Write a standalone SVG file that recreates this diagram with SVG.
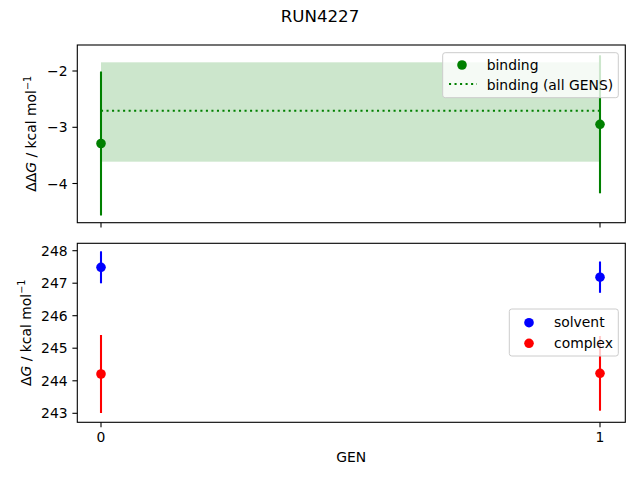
<svg xmlns="http://www.w3.org/2000/svg" width="640" height="480" viewBox="0 0 640 480">
<style>
text{font-family:"DejaVu Sans","Liberation Sans",sans-serif;font-size:13.9px;fill:#000}
.tl{text-anchor:end}
.tc{text-anchor:middle}
.spine{fill:none;stroke:#000;stroke-width:1.1}
.tick{stroke:#000;stroke-width:1.1}
.eb{stroke-width:2.08;fill:none}
.leg{fill:#fff;fill-opacity:0.8;stroke:#ccc;stroke-width:1}
</style>
<rect width="640" height="480" fill="#fff"/>
<text x="320" y="22" class="tc" style="font-size:16.67px">RUN4227</text>

<g id="top-axes">
  <rect x="77.3" y="45" width="548" height="177.7" fill="#fff"/>
  <rect id="binding-range" x="101" y="62.3" width="499" height="99.4" fill="#008000" fill-opacity="0.2"/>
  <line id="binding-all" x1="101" y1="110.7" x2="600" y2="110.7" stroke="#008000" stroke-width="2.08" stroke-dasharray="2.08,3.44"/>
  <g id="binding-points">
    <line class="eb" x1="101" y1="71.5" x2="101" y2="215.5" stroke="#008000"/>
    <line class="eb" x1="600" y1="55.3" x2="600" y2="193.3" stroke="#008000"/>
    <circle cx="101" cy="143.5" r="4.8" fill="#008000"/>
    <circle cx="600" cy="124.3" r="4.8" fill="#008000"/>
  </g>
  <rect class="spine" x="77.3" y="45" width="548" height="177.7"/>
  <g id="top-ticks">
    <line class="tick" x1="77.3" y1="71" x2="72.4" y2="71"/>
    <line class="tick" x1="77.3" y1="127.3" x2="72.4" y2="127.3"/>
    <line class="tick" x1="77.3" y1="183.5" x2="72.4" y2="183.5"/>
    <line class="tick" x1="101" y1="222.7" x2="101" y2="227.6"/>
    <line class="tick" x1="600" y1="222.7" x2="600" y2="227.6"/>
    <text x="67.6" y="76" class="tl">−2</text>
    <text x="67.6" y="132.3" class="tl">−3</text>
    <text x="67.6" y="188.5" class="tl">−4</text>
  </g>
  <text transform="translate(36,133.8) rotate(-90)" class="tc">ΔΔ<tspan font-style="italic">G</tspan> / kcal mol<tspan dy="-5.5" style="font-size:9.7px">−1</tspan></text>
  <g id="top-legend">
    <rect class="leg" x="442.7" y="52.7" width="175.6" height="45" rx="2.5"/>
    <circle cx="462" cy="65" r="4.8" fill="#008000"/>
    <text x="486.7" y="69.5">binding</text>
    <line x1="449" y1="84" x2="477" y2="84" stroke="#008000" stroke-width="2.08" stroke-dasharray="2.08,3.44"/>
    <text x="486.7" y="89.5">binding (all GENS)</text>
  </g>
</g>

<g id="bottom-axes">
  <rect x="77.3" y="243.3" width="548" height="179" fill="#fff"/>
  <g id="solvent-points">
    <line class="eb" x1="101" y1="251.3" x2="101" y2="283.3" stroke="#0000ff"/>
    <line class="eb" x1="600" y1="261.5" x2="600" y2="292.8" stroke="#0000ff"/>
    <circle cx="101" cy="267.3" r="4.8" fill="#0000ff"/>
    <circle cx="600" cy="277.2" r="4.8" fill="#0000ff"/>
  </g>
  <g id="complex-points">
    <line class="eb" x1="101" y1="335" x2="101" y2="413" stroke="#ff0000"/>
    <line class="eb" x1="600" y1="336" x2="600" y2="410.7" stroke="#ff0000"/>
    <circle cx="101" cy="374" r="4.8" fill="#ff0000"/>
    <circle cx="600" cy="373.3" r="4.8" fill="#ff0000"/>
  </g>
  <rect class="spine" x="77.3" y="243.3" width="548" height="179"/>
  <g id="bottom-ticks">
    <line class="tick" x1="77.3" y1="250.7" x2="72.4" y2="250.7"/>
    <line class="tick" x1="77.3" y1="283.2" x2="72.4" y2="283.2"/>
    <line class="tick" x1="77.3" y1="315.7" x2="72.4" y2="315.7"/>
    <line class="tick" x1="77.3" y1="348.2" x2="72.4" y2="348.2"/>
    <line class="tick" x1="77.3" y1="380.8" x2="72.4" y2="380.8"/>
    <line class="tick" x1="77.3" y1="413.3" x2="72.4" y2="413.3"/>
    <text x="67.6" y="255.7" class="tl">248</text>
    <text x="67.6" y="288.2" class="tl">247</text>
    <text x="67.6" y="320.7" class="tl">246</text>
    <text x="67.6" y="353.2" class="tl">245</text>
    <text x="67.6" y="385.8" class="tl">244</text>
    <text x="67.6" y="418.3" class="tl">243</text>
    <line class="tick" x1="101" y1="422.3" x2="101" y2="427.2"/>
    <line class="tick" x1="600" y1="422.3" x2="600" y2="427.2"/>
    <text x="101" y="442" class="tc">0</text>
    <text x="600" y="442" class="tc">1</text>
  </g>
  <text transform="translate(30.5,332.8) rotate(-90)" class="tc">Δ<tspan font-style="italic">G</tspan> / kcal mol<tspan dy="-5.5" style="font-size:9.7px">−1</tspan></text>
  <text x="351.3" y="461.5" class="tc">GEN</text>
  <g id="bottom-legend">
    <rect class="leg" x="509.3" y="309" width="109" height="47" rx="2.5"/>
    <circle cx="529" cy="322.7" r="4.8" fill="#0000ff"/>
    <text x="554" y="327">solvent</text>
    <circle cx="529" cy="343.3" r="4.8" fill="#ff0000"/>
    <text x="554" y="347.5">complex</text>
  </g>
</g>
</svg>
